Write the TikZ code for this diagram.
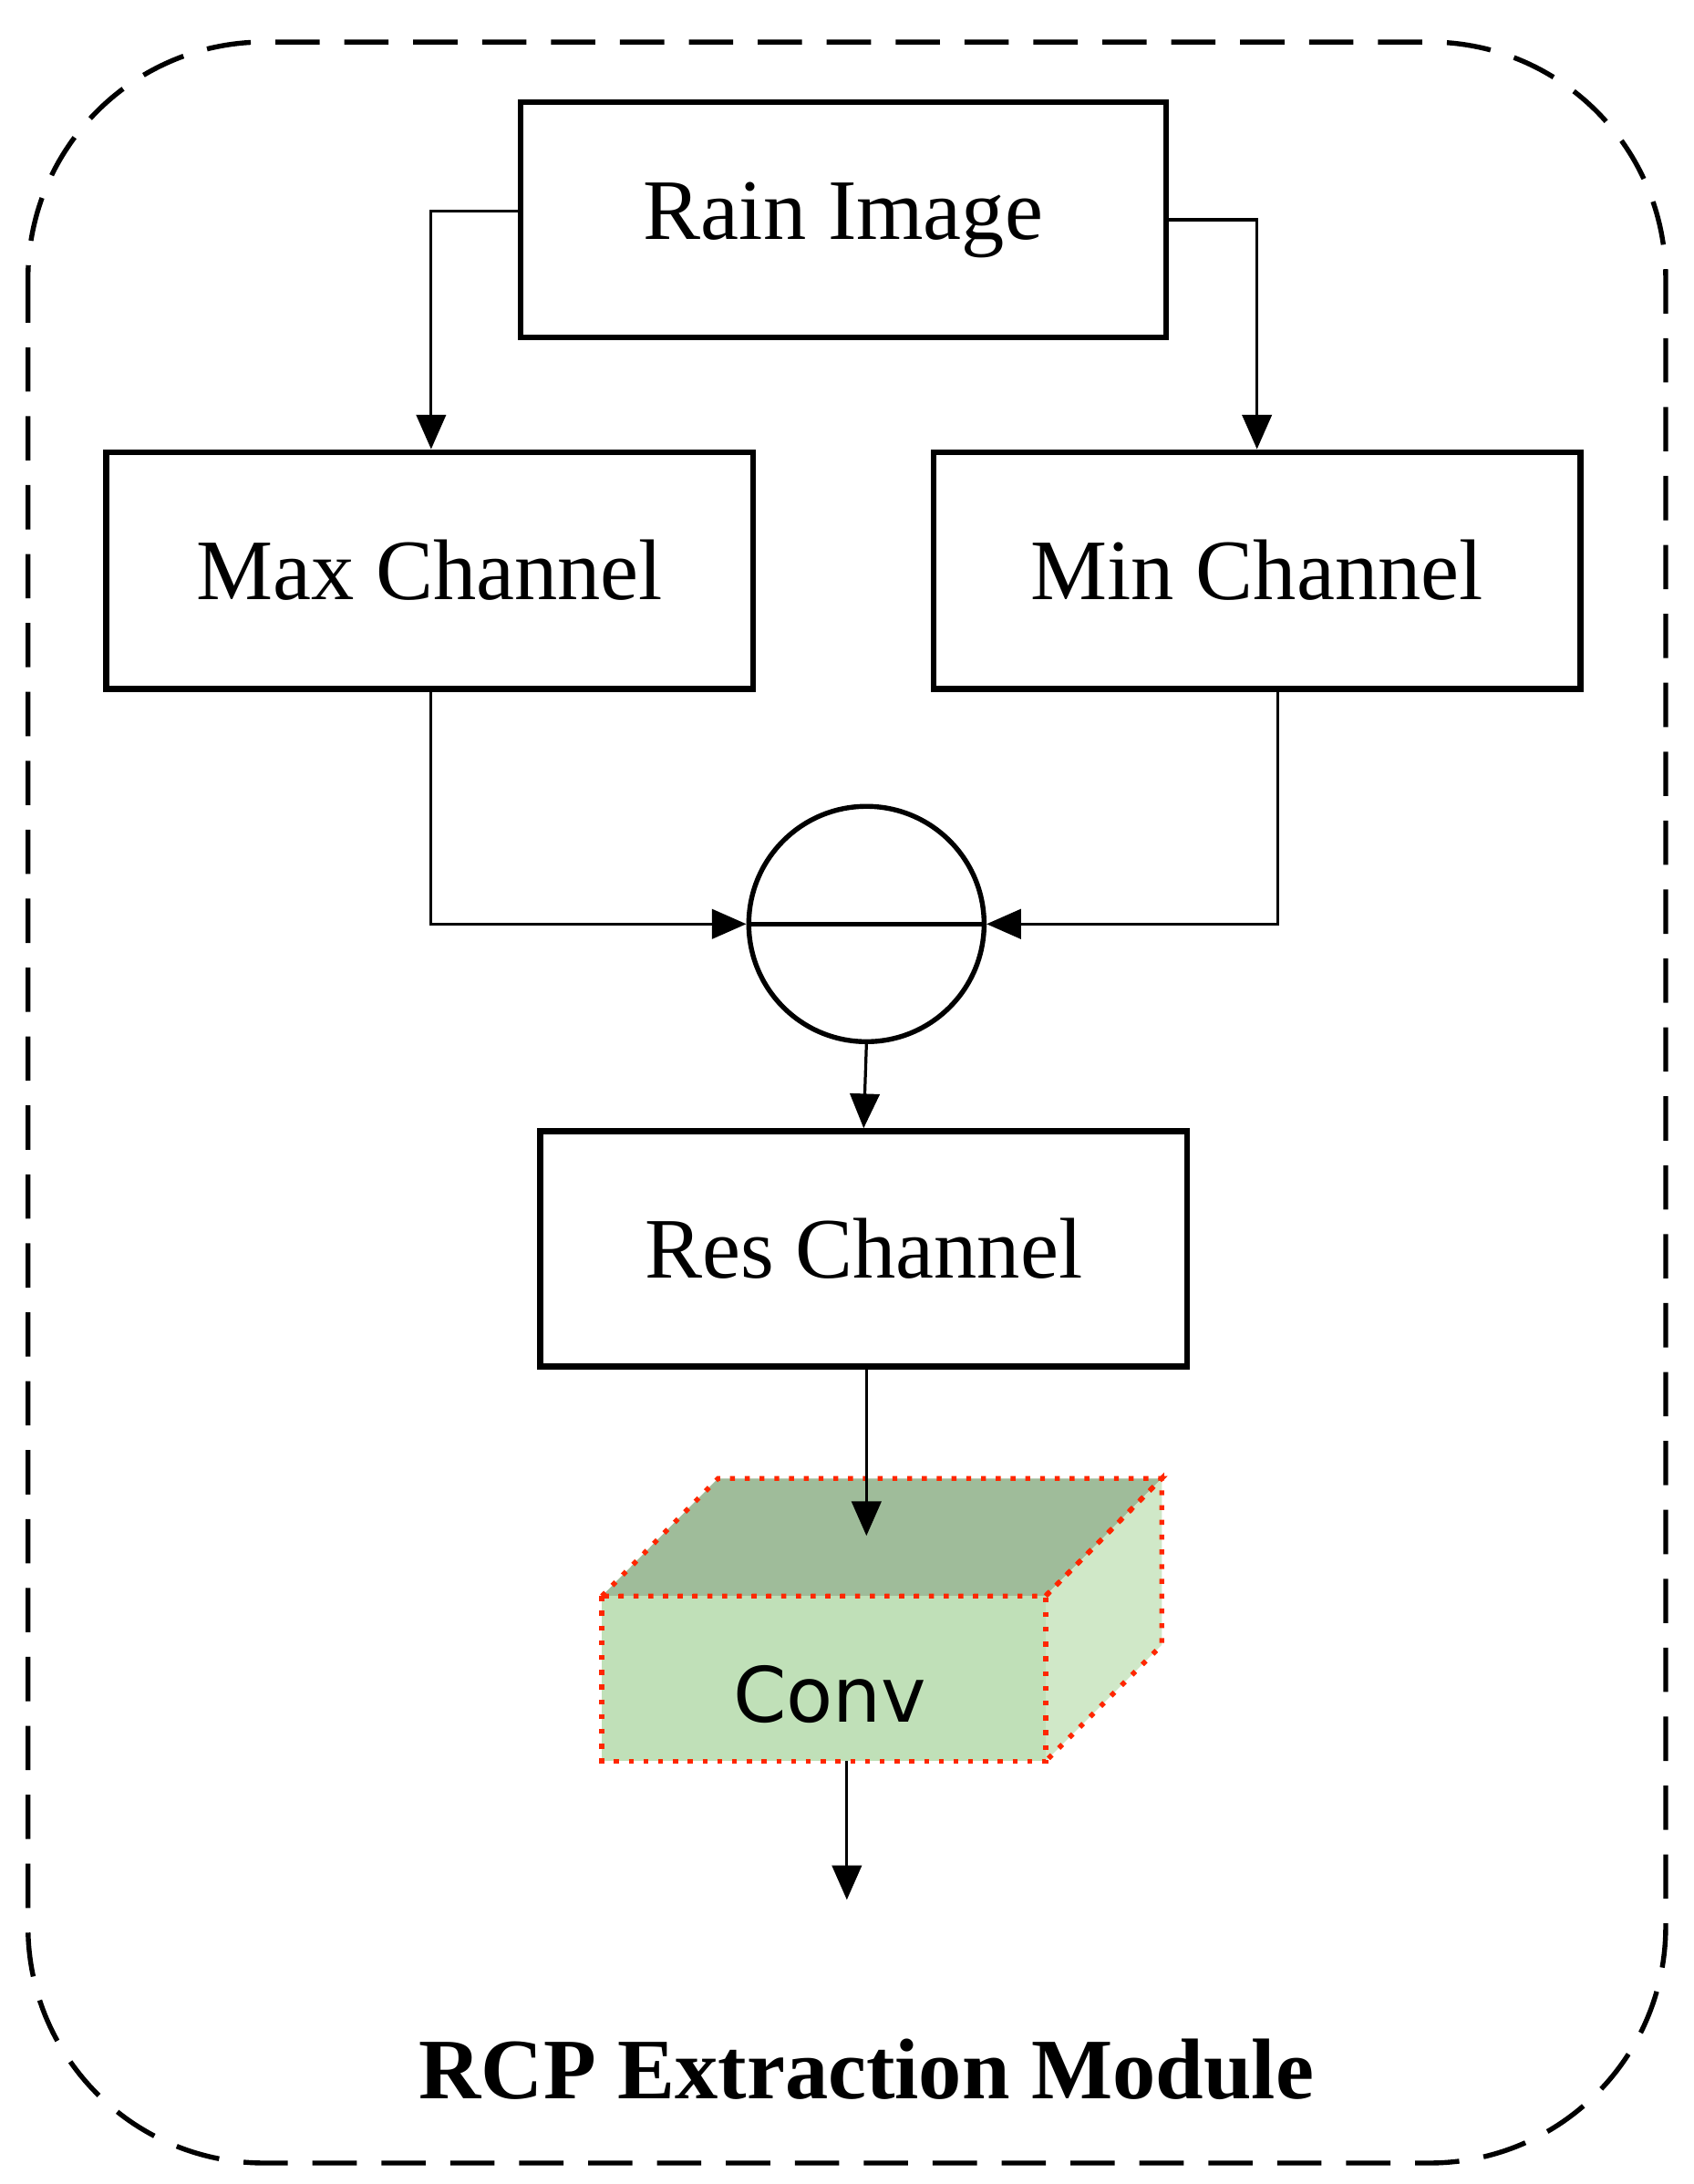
\documentclass[tikz,border=0pt]{standalone}
\usepackage{fontspec}
\setmainfont{Liberation Serif}
\newfontfamily\convfont{DejaVu Sans}
\usetikzlibrary{arrows.meta}
\begin{document}
\begin{tikzpicture}[x=0.01cm,y=-0.01cm,
  box/.style={draw,line width=1.2pt,inner sep=0pt,font=\fontsize{17.5}{20}\selectfont},
  conn/.style={line width=0.6pt,-{Triangle[length=7pt,width=6pt]}},
  face/.style={draw=red!70!orange,dotted,line width=1pt}]
\useasboundingbox (0,0) rectangle (1210,1560);
\draw[dashed,line width=1pt,dash pattern=on 9pt off 5pt,rounded corners=48pt] (20,30) rectangle (1190,1545);
\node[box,minimum width=4.61cm,minimum height=1.68cm] (rain) at (602.5,157) {Rain Image};
\node[box,minimum width=4.62cm,minimum height=1.69cm] (max) at (307,407.5) {Max Channel};
\node[box,minimum width=4.62cm,minimum height=1.69cm] (min) at (898,407.5) {Min Channel};
\node[draw,circle,line width=1pt,minimum size=1.68cm,inner sep=0pt] (op) at (619,660) {};
\draw[line width=1pt] (op.west) -- (op.east);
\node[box,minimum width=4.62cm,minimum height=1.68cm] (res) at (617,892) {Res Channel};
\coordinate (ctop) at (619,1097);
\coordinate (cbot) at (605,1258);
\coordinate (out) at (605,1357);
% cube
\fill[fill={rgb,255:red,159;green,188;blue,154}] (430,1140) -- (513,1056) -- (830,1056) -- (747,1140) -- cycle;
\fill[fill={rgb,255:red,208;green,232;blue,200}] (747,1140) -- (830,1056) -- (830,1175) -- (747,1258) -- cycle;
\fill[fill={rgb,255:red,192;green,224;blue,184}] (430,1140) rectangle (747,1258);
\draw[face] (430,1140) -- (513,1056) -- (830,1056) -- (747,1140) -- cycle;
\draw[face] (747,1140) -- (830,1056) -- (830,1175) -- (747,1258);
\draw[face] (430,1140) rectangle (747,1258);
\node[font=\convfont\fontsize{15.5}{18}\selectfont] (conv) at (593,1210) {Conv};
% connectors
\draw[conn] (rain.west|-0,151) -| (max.north-|308,0);
\draw[conn] (rain.east|-0,157) -| (min.north-|898,0);
\draw[conn] (max.south-|308,0) |- (op.west);
\draw[conn] (min.south-|913,0) |- (op.east);
\draw[conn] (op.south) -- (res.north);
\draw[conn] (res.south-|619,0) -- (ctop);
\draw[conn] (cbot) -- (out);
\node[font=\bfseries\fontsize{17.5}{20}\selectfont] (title) at (619,1478) {RCP Extraction Module};
\end{tikzpicture}
\end{document}
